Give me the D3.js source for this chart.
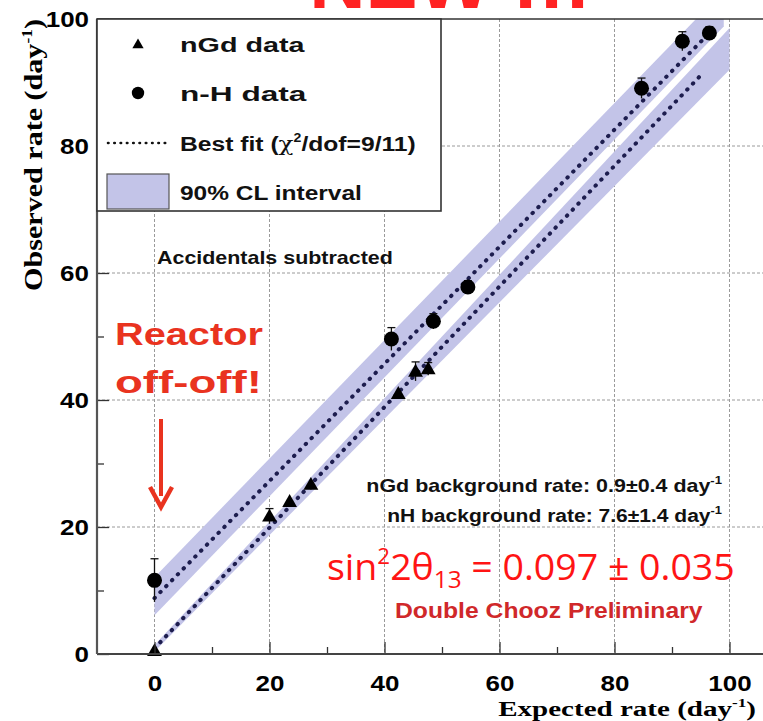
<!DOCTYPE html>
<html>
<head>
<meta charset="utf-8">
<script src="https://cdn.jsdelivr.net/npm/d3@7"></script>
<style>
  body { margin: 0; background: #fff; }
  svg { display: block; }
</style>
</head>
<body>
<div id="chart"></div>
<script>
// data: [expected, observed, error]
const nGdData = [[0, 0.5, 0.5], [20, 21.7, 1.2], [23.5, 24, 0.8], [27.2, 26.7, 0.8],
                 [42.4, 41, 0.8], [45.4, 44.5, 1.5], [47.6, 44.9, 1.0]];
const nHData = [[0, 11.6, 3.4], [41.2, 49.6, 1.8], [48.5, 52.4, 1.2], [54.5, 57.8, 1.0],
                [84.7, 89.1, 1.6], [91.8, 96.5, 1.5], [96.5, 97.8, 1.0]];

// best fit lines [x, y]
const fitNGd = [[0, 0.9], [95.5, 91.6]];
const fitNH = [[0, 8.8], [96.5, 97.8]];

// 90% CL bands [x, lo, hi]
const bandNGd = [[0, 0.4, 1.4], [100, 92, 98.6]];
const bandNH = [[0, 6.1, 12.1], [99, 98.8, 104.5]];

const xTicks = [0, 20, 40, 60, 80, 100];
const xMinor = [10, 30, 50, 70, 90];
const yTicks = [0, 20, 40, 60, 80, 100];
const yMinor = [10, 30, 50, 70, 90];

const width = 763, height = 721;

const x = d3.scaleLinear().domain([-10, 110]).range([97, 787]);
const y = d3.scaleLinear().domain([0, 100]).range([654, 19]);

const svg = d3.select("#chart").append("svg")
  .attr("width", width)
  .attr("height", height);

function fit(t, ax, w) {
  const bw = t.node().getBBox().width;
  const k = w / bw;
  t.attr("transform", "translate(" + ax + ",0) scale(" + k + ",1) translate(" + (-ax) + ",0)");
  return t;
}

svg.append("clipPath").attr("id", "plot")
  .append("rect")
  .attr("x", x(-10)).attr("y", y(100))
  .attr("width", width - x(-10)).attr("height", y(0) - y(100));

// clipped red heading at the very top
svg.append("text")
  .attr("x", 450).attr("y", 8)
  .attr("text-anchor", "middle")
  .attr("font-family", "Liberation Sans, Arial, sans-serif")
  .attr("font-weight", "bold")
  .attr("font-size", 78)
  .attr("fill", "#ff2222")
  .text("NEW !!!");

// grid
svg.append("g").selectAll("line")
  .data(xTicks)
  .enter().append("line")
  .attr("x1", d => x(d)).attr("x2", d => x(d))
  .attr("y1", y(100)).attr("y2", y(0))
  .attr("stroke", "#9a9a9a").attr("stroke-width", 1)
  .attr("stroke-dasharray", "3 2");

svg.append("g").selectAll("line")
  .data(yTicks.slice(1, -1))
  .enter().append("line")
  .attr("x1", x(-10)).attr("x2", width)
  .attr("y1", d => y(d)).attr("y2", d => y(d))
  .attr("stroke", "#9a9a9a").attr("stroke-width", 1)
  .attr("stroke-dasharray", "3 2");

// bands
const area = d3.area()
  .x(d => x(d[0]))
  .y0(d => y(d[1]))
  .y1(d => y(d[2]));

const plot = svg.append("g").attr("clip-path", "url(#plot)");

plot.selectAll(".band")
  .data([bandNH, bandNGd])
  .enter().append("path")
  .attr("class", "band")
  .attr("d", area)
  .attr("fill", "#c3c4e8");

// fit lines
const line = d3.line().x(d => x(d[0])).y(d => y(d[1]));

plot.selectAll(".fit")
  .data([fitNH, fitNGd])
  .enter().append("path")
  .attr("class", "fit")
  .attr("d", line)
  .attr("fill", "none")
  .attr("stroke", "#1d1d4e")
  .attr("stroke-width", 4)
  .attr("stroke-linecap", "round")
  .attr("stroke-dasharray", "0.5 7.8");

// error bars
const allPts = nGdData.concat(nHData);
const err = svg.append("g").attr("stroke", "#111").attr("stroke-width", 1.3);
err.selectAll(".eb")
  .data(allPts)
  .enter().append("line")
  .attr("x1", d => x(d[0])).attr("x2", d => x(d[0]))
  .attr("y1", d => y(d[1] - d[2])).attr("y2", d => y(d[1] + d[2]));
err.selectAll(".cap")
  .data(allPts.filter(d => d[2] > 0.9))
  .enter().append("line")
  .attr("x1", d => x(d[0]) - 4).attr("x2", d => x(d[0]) + 4)
  .attr("y1", d => y(d[1] + d[2])).attr("y2", d => y(d[1] + d[2]));

// points
svg.append("g").selectAll("path")
  .data(nGdData)
  .enter().append("path")
  .attr("transform", d => "translate(" + x(d[0]) + "," + (y(d[1]) + 1) + ")")
  .attr("d", d3.symbol(d3.symbolTriangle, 95))
  .attr("fill", "#000");

svg.append("g").selectAll("circle")
  .data(nHData)
  .enter().append("circle")
  .attr("cx", d => x(d[0]))
  .attr("cy", d => y(d[1]))
  .attr("r", 7.5)
  .attr("fill", "#000");

// axes
const xAxis = d3.axisBottom(x).tickValues(xTicks)
  .tickSizeInner(-12).tickSizeOuter(0).tickPadding(21);
const xAxisMinor = d3.axisBottom(x).tickValues(xMinor)
  .tickSizeInner(-7).tickSizeOuter(0).tickFormat("");
const yAxis = d3.axisLeft(y).tickValues(yTicks)
  .tickSizeInner(-12).tickSizeOuter(0).tickPadding(8);
const yAxisMinor = d3.axisLeft(y).tickValues(yMinor)
  .tickSizeInner(-7).tickSizeOuter(0).tickFormat("");

function styleAxis(g) {
  g.selectAll(".domain").remove();
  g.selectAll(".tick line").attr("stroke", "#333").attr("stroke-width", 1.3);
  g.selectAll(".tick text")
    .attr("font-family", "Liberation Sans, Arial, sans-serif")
    .attr("font-weight", "bold")
    .attr("font-size", 22)
    .attr("fill", "#000")
    .attr("lengthAdjust", "spacingAndGlyphs")
    .attr("textLength", function () { return this.getComputedTextLength() * 1.18; });
}

svg.append("g").attr("transform", "translate(0," + y(0) + ")").call(xAxis).call(styleAxis);
svg.append("g").attr("transform", "translate(0," + y(0) + ")").call(xAxisMinor).call(styleAxis);
svg.append("g").attr("transform", "translate(" + x(-10) + ",0)").call(yAxis).call(styleAxis);
svg.append("g").attr("transform", "translate(" + x(-10) + ",0)").call(yAxisMinor).call(styleAxis);

// frame
svg.append("line")
  .attr("x1", x(-10)).attr("x2", width)
  .attr("y1", y(0)).attr("y2", y(0))
  .attr("stroke", "#444").attr("stroke-width", 2.2);
svg.append("line")
  .attr("x1", x(-10)).attr("x2", width)
  .attr("y1", y(100)).attr("y2", y(100))
  .attr("stroke", "#333").attr("stroke-width", 1.6);
svg.append("line")
  .attr("x1", x(-10)).attr("x2", x(-10))
  .attr("y1", y(100)).attr("y2", y(0))
  .attr("stroke", "#555").attr("stroke-width", 2.2);

// axis titles
const serif = "Liberation Serif, Times New Roman, serif";
const xt = svg.append("text")
  .attr("x", 756).attr("y", 716)
  .attr("text-anchor", "end")
  .attr("font-family", serif).attr("font-weight", "bold").attr("font-size", 22);
xt.append("tspan").text("Expected rate (day");
xt.append("tspan").attr("font-size", 13).attr("dy", -9).text("-1");
xt.append("tspan").attr("dy", 9).text(")");
fit(xt, 756, 258);

const yt = svg.append("text")
  .attr("x", 0).attr("y", 0)
  .attr("text-anchor", "middle")
  .attr("font-family", serif).attr("font-weight", "bold").attr("font-size", 26);
yt.append("tspan").text("Observed rate (day");
yt.append("tspan").attr("font-size", 15).attr("dy", -10).text("-1");
yt.append("tspan").attr("dy", 10).text(")");
const ytw = yt.node().getBBox().width;
yt.attr("transform", "translate(42,155) rotate(-90) scale(" + (272 / ytw) + ",1)");

// legend
const sans = "Liberation Sans, Arial, sans-serif";
const lg = svg.append("g");
lg.append("rect")
  .attr("x", x(-10)).attr("y", y(100))
  .attr("width", 344).attr("height", 192)
  .attr("fill", "#fff").attr("stroke", "#333").attr("stroke-width", 1.6);
lg.append("path")
  .attr("transform", "translate(138,45)")
  .attr("d", d3.symbol(d3.symbolTriangle, 55))
  .attr("fill", "#000");
lg.append("circle").attr("cx", 138).attr("cy", 93).attr("r", 6.2).attr("fill", "#000");
lg.append("line")
  .attr("x1", 108).attr("x2", 167).attr("y1", 143).attr("y2", 143)
  .attr("stroke", "#111").attr("stroke-width", 2.6)
  .attr("stroke-linecap", "round").attr("stroke-dasharray", "0.5 5.8");
lg.append("rect")
  .attr("x", 107).attr("y", 174).attr("width", 62).attr("height", 35)
  .attr("fill", "#c3c4e8").attr("stroke", "#555").attr("stroke-width", 1.2);

const legendText = [["nGd data", 52, 125], ["n-H data", 101, 127], ["90% CL interval", 200, 182]];
legendText.forEach(d => {
  const t = lg.append("text")
    .attr("x", 180).attr("y", d[1])
    .attr("font-family", sans).attr("font-weight", "bold").attr("font-size", 21)
    .attr("fill", "#111")
    .text(d[0]);
  fit(t, 180, d[2]);
});
const bf = lg.append("text")
  .attr("x", 180).attr("y", 151)
  .attr("font-family", sans).attr("font-weight", "bold").attr("font-size", 21)
  .attr("fill", "#111");
bf.append("tspan").text("Best fit (");
bf.append("tspan").attr("font-family", "DejaVu Serif, serif").attr("font-weight", "normal").text("χ");
bf.append("tspan").attr("font-size", 12).attr("dy", -9).text("2");
bf.append("tspan").attr("dy", 9).text("/dof=9/11)");
fit(bf, 180, 236);

// annotations
const acc = svg.append("text")
  .attr("x", 157).attr("y", 264)
  .attr("font-family", sans).attr("font-weight", "bold").attr("font-size", 18)
  .attr("fill", "#111")
  .text("Accidentals subtracted");
fit(acc, 157, 236);

const bg = [["nGd background rate: 0.9±0.4 day", 492, 356], ["nH background rate: 7.6±1.4 day", 522, 335]];
bg.forEach(b => {
  const t = svg.append("text")
    .attr("x", 722).attr("y", b[1])
    .attr("text-anchor", "end")
    .attr("font-family", sans).attr("font-weight", "bold").attr("font-size", 18)
    .attr("fill", "#111");
  t.append("tspan").text(b[0]);
  t.append("tspan").attr("font-size", 11).attr("dy", -8).text("-1");
  fit(t, 722, b[2]);
});

const reactor = [["Reactor", 345, 148], ["off-off!", 393, 147]];
reactor.forEach(r => {
  const t = svg.append("text")
    .attr("x", 115).attr("y", r[1])
    .attr("font-family", sans).attr("font-weight", "bold").attr("font-size", 31)
    .attr("fill", "#e9331f")
    .text(r[0]);
  fit(t, 115, r[2]);
});

// red arrow
svg.append("line")
  .attr("x1", 161).attr("x2", 161).attr("y1", 419).attr("y2", 496)
  .attr("stroke", "#e9331f").attr("stroke-width", 4);
svg.append("path")
  .attr("d", "M150,487 L161,507 L172,487")
  .attr("fill", "none").attr("stroke", "#e9331f").attr("stroke-width", 4.5)
  .attr("stroke-linejoin", "miter");

const st = svg.append("text")
  .attr("x", 327).attr("y", 580)
  .attr("font-family", "Open Sans, Noto Sans, sans-serif").attr("font-size", 37)
  .attr("fill", "#ff1414");
st.append("tspan").text("sin");
st.append("tspan").attr("font-size", 22).attr("dy", -16).text("2");
st.append("tspan").attr("dy", 16).text("2θ");
st.append("tspan").attr("font-size", 24).attr("dy", 8).text("13");
st.append("tspan").attr("dy", -8).text(" = 0.097 ± 0.035");
fit(st, 327, 408);

const dc = svg.append("text")
  .attr("x", 395).attr("y", 618)
  .attr("font-family", sans).attr("font-weight", "bold").attr("font-size", 23)
  .attr("fill", "#d0282a")
  .text("Double Chooz Preliminary");
fit(dc, 395, 308);
</script>
</body>
</html>
